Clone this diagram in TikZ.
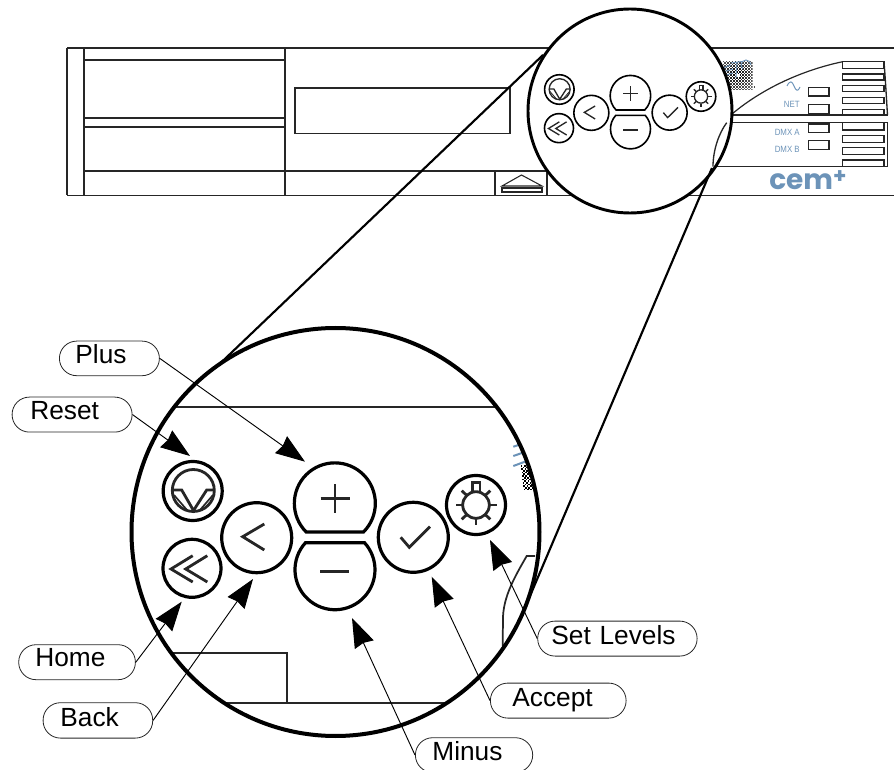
\documentclass[tikz,border=0pt]{standalone}
\usepackage{fontspec}
\usepackage{graphicx}
\setmainfont{Liberation Sans}
\newfontfamily\logofont{Poppins}
\usetikzlibrary{arrows.meta}
\definecolor{ink}{HTML}{262626}
\definecolor{etcblue}{HTML}{6C93B8}
\tikzset{
  panel/.style={draw=ink,line width=1pt},
  pill/.style={draw=ink,line width=0.6pt,rounded corners=13pt,inner sep=0pt,align=left,font=\fontsize{19.7}{22}\selectfont,text=black},
  callout/.style={draw=black,line width=0.7pt,-{Stealth[length=22pt,width=15.5pt,inset=1.5pt]}},
  smalltext/.style={text=etcblue,inner sep=0pt,font=\fontsize{6.8}{8}\selectfont},
  tangent/.style={draw=black,line width=1.6pt},
}
\newcommand\pilllabel[8]{%
  \pgfmathsetlengthmacro\pillw{(#4-#2)*0.75pt}%
  \pgfmathsetlengthmacro\pillh{(#7-#3)*0.75pt}%
  \pgfmathsetlengthmacro\pilld{(#5-#7)*0.75pt}%
  \pgfmathsetlengthmacro\pilli{(#6-#2)*0.75pt}%
  \node[pill,anchor=north west,text width=\pillw,text height=\pillh,text depth=\pilld] (#1) at (#2,#3) {\hspace*{\pilli}#8};}
% the seven keys, in the coordinates of the large view
\newcommand\keypad[2]{%
  \begin{scope}[draw=black,line width=#1]
    \draw (192.7,491) circle[radius=29.5];
    \draw (192,568.3) circle[radius=29];
    \draw (256.7,537.7) circle[radius=35];
    \draw (413.3,537.3) circle[radius=35];
    \draw (476,505) circle[radius=29.5];
    \draw (306.2,532) arc[start angle=135,end angle=405,radius=40.5] -- cycle;
    \draw (305.5,542.7) arc[start angle=222.5,end angle=-42.5,radius=40] -- cycle;
  \end{scope}
  \begin{scope}[draw=ink,line width=#2]
    \draw (193.3,490.5) circle[radius=21];
    \draw (172.5,490) -- (181.7,490) -- (193.5,510.5) -- (206.7,490) -- (214,490);
    \draw[line width=0.6*#2] (174,495) -- (187,510) (213,495) -- (200,510);
    \draw (192.7,555.7) -- (171,569) -- (192.7,582);
    \draw (207.3,555.7) -- (185.7,569) -- (207.3,582);
    \draw (264.3,524) -- (242.7,536.7) -- (264.3,550);
    \draw (320.5,498.7) -- (349.5,498.7) (335,484.2) -- (335,513.2);
    \draw (320,571.7) -- (349,571.7);
    \draw (400.7,537.3) -- (409.3,547.3) -- (430,526.7);
    \draw (476,505) circle[radius=13.3];
    \draw (472.7,491.7) -- (472.7,482.7) -- (480,482.7) -- (480,491.7);
    \draw (456,505) -- (462.7,505) (489.3,505) -- (497,505) (476,519.3) -- (476,525.3);
    \draw (461.7,490.7) -- (466.7,495.3) (485.3,495.3) -- (490.3,490.7);
    \draw (466.7,514.7) -- (461.7,519.3) (485.3,514.7) -- (490.3,519.3);
  \end{scope}}
\begin{document}
\begin{tikzpicture}[x=0.75pt,y=-0.75pt]
\useasboundingbox (0,0) rectangle (894,770);
\clip (0,0) rectangle (894,770);

% --- front panel
\draw[panel] (67,48) -- (894,48);
\draw[panel,line width=1.4pt] (67,195.5) -- (894,195.5);
\draw[panel] (67,48) -- (67,195.5) (84,48) -- (84,195.5) (285,48) -- (285,195.5);
\draw[panel] (84,60) -- (285,60) (84,118) -- (285,118) (84,127) -- (285,127);
\draw[panel] (84,171) -- (606,171) -- (606,195.5) (495,171) -- (495,195.5) (547,171) -- (547,195.5);
\draw[panel] (295,88) rectangle (510,133.5);
\draw[panel,line width=0.8pt] (502,186) -- (521.5,175) -- (542,186) -- cycle;
\draw[panel,line width=0.8pt] (502,188) rectangle (542,192);

% --- ETC logo
\begin{scope}
  \clip (722.7,60.7) rectangle (752.7,89.3);
  \foreach \i in {0,...,19} \foreach \j in {0,...,19} {
    \pgfmathparse{int(mod(\i+\j,2))}
    \ifnum\pgfmathresult=0
      \pgfmathsetmacro\op{max(0.3,1-0.03*sqrt((\i-9)*(\i-9)+(\j-8)*(\j-8)))}
      \fill[black,opacity=\op] (722.7+1.5*\i,60.7+1.5*\j) rectangle ++(1.5,1.5);
    \fi}
\end{scope}
\fill[white] (735.5,74) rectangle ++(4,3);
\draw[etcblue,line width=0.7pt] (720,69) -- (731,65) (720,73) -- (733,69) (720,77) -- (733,73);
\draw[etcblue,line width=0.7pt] (731,63) -- (742,61.5) (737,62) -- (736,78);
\draw[etcblue,line width=0.7pt] (751,65) arc[start angle=0,end angle=-230,radius=5];
\fill[black!70] (753.5,86.5) rectangle ++(1.5,1.5);

% --- indicator block
\draw[panel,line width=0.9pt] (732,114) .. controls (763,88) and (803,70) .. (842.7,61.7);
\draw[panel,line width=2pt] (732,115) -- (887.5,115);
\draw[panel] (884,62) .. controls (885.5,80) and (886.5,100) .. (887.5,115);
\draw[panel] (726.7,122.7) -- (887.7,122.7) -- (887.7,166.7) -- (713,166.7);
\foreach \a/\b in {61.7/68.3,74/80,85.7/91.7,97.7/103.3,109.3/115,122.7/130,135.3/142.3,147.3/154.7,160/166.7}
  \draw[panel] (842.7,\a) rectangle (884,\b);
\foreach \a/\b in {87.7/96,104.3/113.3,124/132.7,140.7/149.3}
  \draw[panel] (808.3,\a) rectangle (829,\b);
\draw[etcblue,line width=0.7pt] (787,86) .. controls (790,80) and (792,81) .. (794,86) .. controls (796,91) and (798,92) .. (800,87);
\node[smalltext,anchor=east] (net) at (800,104) {\scalebox{.87}[1]{NET}};
\node[smalltext,anchor=east] (dmxa) at (800,132.5) {\scalebox{.87}[1]{DMX A}};
\node[smalltext,anchor=east] (dmxb) at (800,149.5) {\scalebox{.87}[1]{DMX B}};
\node[anchor=base west,inner sep=0pt,text=etcblue,font=\logofont\bfseries\fontsize{21}{24}\selectfont] (logo) at (769,189.5) {cem\raisebox{4.5pt}{\fontsize{16}{18}\selectfont +}};

% --- small lens
\fill[white] (630,111) circle[radius=102];
\draw[panel] (726.7,122.7) .. controls (719,133) and (713,150) .. (713,166.7);
\begin{scope}[shift={(463,-156)},x=0.375pt,y=-0.375pt]
  \keypad{1.2pt}{1pt}
\end{scope}
\draw[line width=2.2pt] (630,111) circle[radius=102];

% --- projection lines
\coordinate (ta) at (543,55);
\coordinate (tb) at (207,376);
\coordinate (tc) at (712,168);
\coordinate (td) at (527,603);
\draw[tangent] (ta) -- (tb);

% --- large lens
\fill[white] (335.5,532) circle[radius=204];
\draw[panel,line width=1.5pt] (172,407.5) -- (497,407.5);
\draw[panel,line width=1.5pt] (173,652.7) -- (287,652.7) -- (287,702.7);
\draw[panel,line width=1.5pt] (225,702.7) -- (445,702.7);
\draw[panel,line width=1.3pt] (502.7,646) -- (503,616.7) .. controls (504,596) and (514,578) .. (526.7,556) -- (535,556);
\begin{scope}
  \clip (335.5,532) circle[radius=204];
  \draw[etcblue,line width=1.5pt] (513.3,446.7) -- (520,444.5) (513.3,456) -- (524,452.3) (513.3,466) -- (526,461.3);
  \foreach \i in {0,...,8} \foreach \j in {0,...,14} {
    \pgfmathparse{int(mod(\i+\j,2))}
    \ifnum\pgfmathresult=0
      \fill[black] (520.7+1.7*\i+\j*0.2,465+1.7*\j) rectangle ++(1.7,1.7);
    \fi}
\end{scope}
\keypad{2.4pt}{2.1pt}
\draw[line width=3pt] (335.5,532) circle[radius=204];
\draw[tangent] (tc) -- (td);

% --- labels
\pilllabel{plus}{59}{340.7}{159}{375.3}{75}{363}{Plus}
\pilllabel{reset}{11.7}{396.7}{131.7}{431.7}{30}{419.3}{Reset}
\pilllabel{home}{18.3}{644.3}{135}{679.3}{35}{665.7}{Home}
\pilllabel{back}{42.7}{702.3}{152.3}{737.7}{60}{725.7}{Back}
\pilllabel{setlevels}{537.3}{620.7}{696.7}{655.7}{551}{644.3}{Set Levels}
\pilllabel{accept}{490}{682.7}{625.7}{717.7}{512}{705.7}{Accept}
\pilllabel{minus}{415}{737.3}{532.3}{772}{432}{760}{Minus}

% --- call-outs
\coordinate (tplus) at (305,461.7);
\coordinate (treset) at (190,456);
\coordinate (thome) at (181.7,601.7);
\coordinate (tback) at (253,579);
\coordinate (tminus) at (352,618);
\coordinate (taccept) at (431.7,576.7);
\coordinate (tset) at (490,540);
\draw[callout] (plus.east) -- (tplus);
\draw[callout] (reset.east) -- (treset);
\draw[callout] (home.east) -- (thome);
\draw[callout] (back.east) -- (tback);
\draw[callout] (minus.west) -- (tminus);
\draw[callout] (accept.west) -- (taccept);
\draw[callout] (setlevels.west) -- (tset);
\end{tikzpicture}
\end{document}
